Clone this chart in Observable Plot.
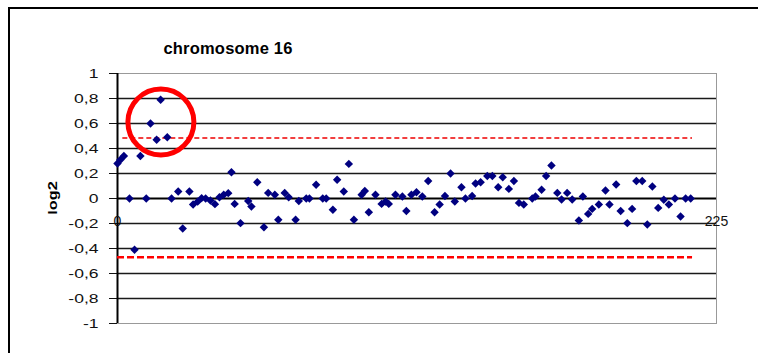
<!DOCTYPE html>
<html>
<head>
<meta charset="utf-8">
<script src="https://cdn.jsdelivr.net/npm/d3@7"></script>
<script src="https://cdn.jsdelivr.net/npm/@observablehq/plot@0.6"></script>
<style>
  body { margin: 0; background: #fff; }
  #wrap { position: relative; width: 758px; height: 353px; overflow: hidden; font-family: "Liberation Sans", Arial, sans-serif; color: #000; }
  #border { position: absolute; left: 8px; top: 7px; width: 800px; height: 400px; border: 2px solid #000; box-sizing: border-box; }
  #title { position: absolute; left: 128px; width: 200px; top: 40px; text-align: center; font-weight: bold; font-size: 16.5px; line-height: 16px; white-space: nowrap; letter-spacing: 0.2px; }
  #ylab { position: absolute; left: 52px; top: 198px; font-weight: bold; font-size: 13px; line-height: 13px; white-space: nowrap; transform: translate(-50%, -50%) rotate(-90deg) scale(1.25, 1); }
  #chart { position: absolute; left: 0; top: 0; }
</style>
</head>
<body>
<div id="wrap">
  <div id="border"></div>
  <div id="chart"></div>
  <div id="title">chromosome 16</div>
  <div id="ylab">log2</div>
</div>
<script>
// clone index along chromosome
const xPos = [0,1.1,2.4,4.5,6.4,8.6,10.8,12.4,14.7,16.2,18.7,20.3,22.8,24.5,27.0,28.4,30.1,31.6,33.1,34.9,36.6,38.3,39.9,41.6,42.8,44.0,46.2,49.1,50.3,52.5,55.0,56.6,59.1,60.4,62.8,64.3,66.9,68.1,70.9,72.1,74.6,77.1,78.4,80.9,82.5,85.0,86.9,88.8,91.7,92.9,94.4,96.9,99.2,100.7,101.9,104.4,107.0,108.5,110.4,112.3,114.5,116.7,119.1,121.0,123.0,125.1,126.7,129.2,130.7,133.2,134.5,136.4,138.9,140.8,143.0,144.7,147.0,148.9,150.8,152.6,155.8,157.0,159.3,161.0,163.0,165.2,166.8,168.9,170.8,173.3,174.8,176.8,178.3,180.8,183.3,184.8,187.3,189.0,191.5,193.3,194.9,197.1,199.0,200.9,203.1,205.2,207.1,209.4,211.5,213.4,215.3];
// log2 ratio
const log2 = [0.28,0.31,0.34,0,-0.41,0.34,0,0.60,0.47,0.79,
  0.49,0,0.056,-0.24,0.056,-0.048,-0.025,0.003,0,-0.016,
  -0.045,0.01,0.03,0.043,0.21,-0.043,-0.197,-0.02,-0.064,0.13,
  -0.23,0.045,0.03,-0.17,0.045,0.01,-0.17,-0.02,0,0,
  0.11,0,0,-0.09,0.15,0.056,0.277,-0.17,0.03,0.06,
  -0.11,0.03,-0.043,-0.024,-0.043,0.03,0.016,-0.1,0.03,0.05,
  0.016,0.14,-0.11,-0.048,0.02,0.2,-0.024,0.09,0,0.02,
  0.12,0.13,0.18,0.18,0.09,0.17,0.077,0.14,-0.035,-0.048,
  0,0.016,0.07,0.18,0.264,0.045,-0.008,0.045,-0.008,-0.176,
  0.016,-0.123,-0.083,-0.048,0.064,-0.048,0.112,-0.1,-0.197,-0.083,
  0.14,0.14,-0.208,0.096,-0.075,-0.01,-0.048,0,-0.144,0,0];
const yTicks = [-1,-0.8,-0.6,-0.4,-0.2,0,0.2,0.4,0.6,0.8,1];
const gridVals = [-0.8,-0.6,-0.4,-0.2,0.2,0.4,0.6,0.8];
const xLabels = [0, 225];
const thrValues = [0.485, -0.47];
const thrStart = [2, 0];
const thrEnd = [216, 216];
const highlightX = [16.3];
const highlightY = [0.612];

const points = xPos.map((x, i) => ({x, y: log2[i]}));
const thr = thrValues.map((y, i) => ({y, x1: thrStart[i], x2: thrEnd[i]}));
const highlight = highlightX.map((x, i) => ({x, y: highlightY[i]}));
const fmt = d => (Math.round(d * 10) / 10).toString().replace(".", ",");

const chart = Plot.plot({
  width: 758, height: 353,
  marginLeft: 117, marginRight: 42, marginTop: 73, marginBottom: 30,
  x: {domain: [0, 225], axis: null},
  y: {domain: [-1, 1], ticks: yTicks, tickSize: 8, tickPadding: 11, tickFormat: fmt, label: null},
  style: {fontFamily: "'Liberation Sans', Arial, sans-serif", fontSize: "13.5px", color: "#111", background: "transparent", overflow: "visible"},
  marks: [
    Plot.frame({stroke: "#999"}),
    Plot.ruleY(gridVals, {stroke: "#1a1a1a", strokeWidth: 1.4}),
    Plot.ruleY([0], {stroke: "#000", strokeWidth: 2.2}),
    Plot.ruleX([0], {stroke: "#000", strokeWidth: 2}),
    Plot.ruleY(thr.slice(0, 1), {y: "y", x1: "x1", x2: "x2", stroke: "#e00", strokeWidth: 1.5, strokeDasharray: "5,3"}),
    Plot.ruleY(thr.slice(1), {y: "y", x1: "x1", x2: "x2", stroke: "#f00", strokeWidth: 2.5, strokeDasharray: "7,3"}),
    Plot.dot(highlight, {x: "x", y: "y", r: 33, stroke: "#f00", strokeWidth: 5, fill: "none"}),
    Plot.dot(points, {x: "x", y: "y", symbol: "diamond2", r: 3.8, fill: "#000080", stroke: "none"}),
    Plot.text(xLabels, {x: d => d, y: 0, dy: 23, text: d => String(d), fontSize: 14, fill: "#111", ariaLabel: "xlab"})
  ]
});
document.getElementById("chart").appendChild(chart);

// horizontal stretch of label glyphs (the reference chart's text is wide)
function stretch(nodes, s) {
  nodes.forEach(t => {
    const x = parseFloat(t.getAttribute("x")) || 0;
    const y = parseFloat(t.getAttribute("y")) || 0;
    const tr = t.getAttribute("transform") || "";
    t.setAttribute("transform", `${tr} translate(${x},${y}) scale(${s},1) translate(${-x},${-y})`);
  });
}
const svg = chart.tagName.toLowerCase() === "svg" ? chart : chart.querySelector("svg");
stretch(svg.querySelectorAll('g[aria-label="y-axis tick label"] text'), 1.3);
stretch(svg.querySelectorAll('g[aria-label="xlab"] text'), 1.2);
</script>
</body>
</html>
